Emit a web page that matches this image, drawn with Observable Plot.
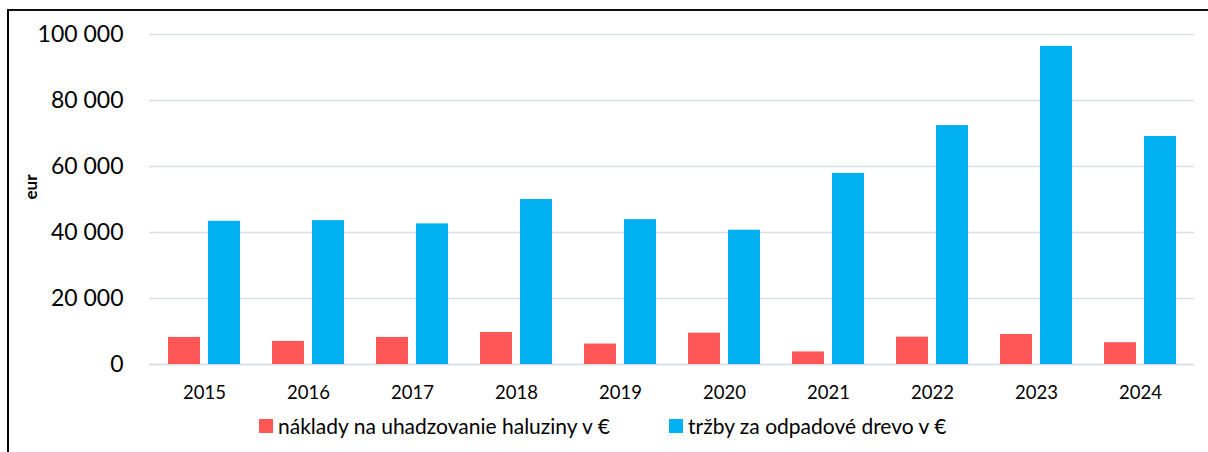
<!DOCTYPE html>
<html>
<head>
<meta charset="utf-8">
<script src="https://cdn.jsdelivr.net/npm/d3@7"></script>
<script src="https://cdn.jsdelivr.net/npm/@observablehq/plot@0.6"></script>
<style>
  html, body { margin: 0; padding: 0; background: #fff; }
  body { width: 1208px; height: 452px; position: relative; overflow: hidden; font-family: Lato, "Open Sans", sans-serif; color: #000; }
  #frame { position: absolute; left: 7px; top: 9px; width: 1201px; height: 443px; border-left: 2px solid #000; border-top: 2px solid #111; box-sizing: border-box; }
  #chart { position: absolute; left: 0; top: 0; }
  .leg { position: absolute; top: 413px; display: flex; align-items: center; font-size: 21px; white-space: nowrap; }
  .sw { width: 14px; height: 14px; margin-right: 5px; }
</style>
</head>
<body>
<div id="frame"></div>
<div id="chart"></div>
<div id="legend"></div>
<script>
const years = ["2015", "2016", "2017", "2018", "2019", "2020", "2021", "2022", "2023", "2024"];
const costs = [8200, 7000, 8200, 9700, 6200, 9500, 3800, 8300, 9100, 6600];
const revenue = [43400, 43600, 42600, 50000, 43900, 40700, 57900, 72400, 96400, 69100];
const seriesNames = ["náklady na uhadzovanie haluziny v €", "tržby za odpadové drevo v €"];
const seriesColors = ["#FF5757", "#00B0F0"];
const yTicks = [0, 20000, 40000, 60000, 80000, 100000];
const yLabel = "eur";

const fmt = d3.formatLocale({decimal: ",", thousands: " ", grouping: [3], currency: ["", " €"]}).format(",");

const costData = years.map((y, i) => ({year: y, value: costs[i]}));
const revData = years.map((y, i) => ({year: y, value: revenue[i]}));

const chart = Plot.plot({
  width: 1208,
  height: 405,
  marginLeft: 149,
  marginRight: 14,
  marginTop: 34,
  marginBottom: 41,
  style: {fontFamily: "Lato, 'Open Sans', sans-serif", color: "#000", background: "transparent"},
  x: {domain: years, paddingInner: 0.311, paddingOuter: 0.1555, label: null},
  y: {domain: [0, 100000], label: null},
  marks: [
    Plot.gridY(yTicks, {stroke: "#D9DEE4", strokeOpacity: 1, strokeWidth: 1.5}),
    Plot.ruleY([0], {stroke: "#D9DEE4", strokeWidth: 1.5}),
    Plot.barY(costData, {x: "year", y: "value", fill: seriesColors[0], insetRight: 40}),
    Plot.barY(revData, {x: "year", y: "value", fill: seriesColors[1], insetLeft: 40}),
    Plot.axisY(yTicks, {tickFormat: fmt, tickSize: 0, tickPadding: 26, fontSize: 23, label: null}),
    Plot.axisX({tickSize: 0, tickPadding: 21, fontSize: 18.5, label: null}),
    Plot.text([yLabel], {frameAnchor: "left", dx: -118, rotate: -90, fontWeight: "bold", fontSize: 17, fill: "#000"})
  ]
});
document.getElementById("chart").appendChild(chart);

const legend = document.getElementById("legend");
const legLeft = [259, 669];
seriesNames.forEach((name, i) => {
  const item = document.createElement("div");
  item.className = "leg";
  item.style.left = legLeft[i] + "px";
  const sw = document.createElement("div");
  sw.className = "sw";
  sw.style.background = seriesColors[i];
  const t = document.createElement("span");
  t.textContent = name;
  item.appendChild(sw);
  item.appendChild(t);
  legend.appendChild(item);
});
</script>
</body>
</html>
